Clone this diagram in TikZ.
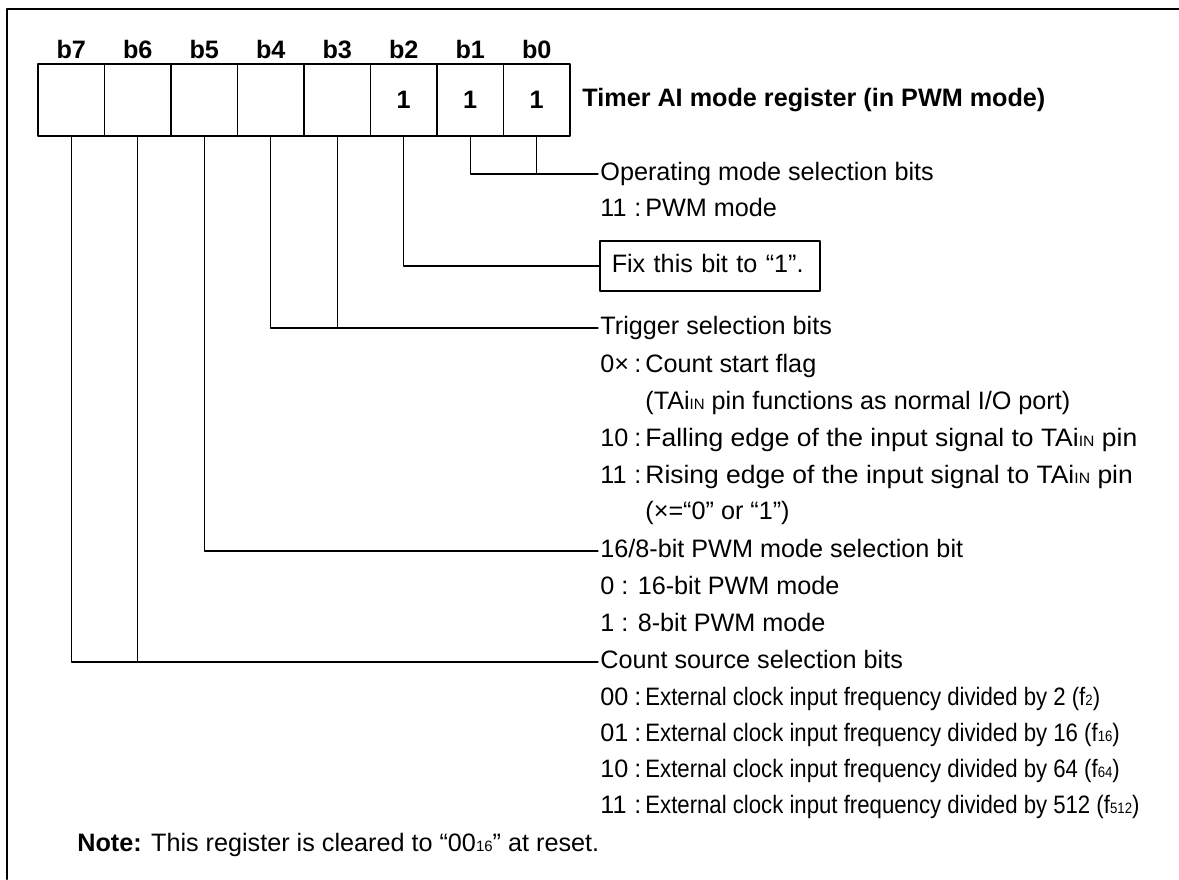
\documentclass[tikz,border=0pt]{standalone}
\usepackage{fontspec}
\setmainfont{Liberation Sans}
\newfontfamily\narrowfont[FakeStretch=0.88]{Liberation Sans}
\newfontfamily\widefont[FakeStretch=1.05]{Liberation Sans}
\newcommand\basefont{\fontsize{12.6pt}{15pt}\selectfont}
\newcommand\smalltxt[1]{{\fontsize{7.5pt}{8pt}\selectfont #1}}
\newcommand\opt[2]{\makebox[17pt][l]{#1}\makebox[5.5pt][l]{:}#2}
\newcommand\cont[1]{\hspace*{22.5pt}#1}
\begin{document}
\begin{tikzpicture}[x=0.5pt, y=-0.5pt, font=\basefont, line join=round, line cap=round,
	cell/.style={draw, line width=0.75pt, minimum width=33.25pt, minimum height=36pt, inner sep=0pt, font=\basefont\bfseries},
	bitlbl/.style={font=\basefont\bfseries, inner sep=1pt, text height=9pt, text depth=0pt},
	txt/.style={anchor=west, inner sep=1pt, text height=9pt, text depth=2.5pt},
	lead/.style={line width=0.6pt}]
	\useasboundingbox (0,0) rectangle (1179,879);
	% khung
	\draw[line width=1.2pt] (7,879) -- (7,9) -- (1179,9);
	% cac bit cua thanh ghi
	\foreach \i/\v in {7/,6/,5/,4/,3/,2/1,1/1,0/1} {
		\node[cell] (c\i) at ({570-66.5*(\i+0.5)},100) {\v};
		\node[bitlbl] (b\i) at ({570-66.5*(\i+0.5)},49) {b\i};
	}
	\node[txt, font=\basefont\bfseries] (title) at (580,100) {Timer AI mode register (in PWM mode)};
	
	% b1, b0
	\node[txt] (opm) at (598,174) {Operating mode selection bits};
	\node[txt] (opm1) at (598,210) {\opt{11}{PWM mode}};
	% b2
	\node[draw, line width=0.75pt, anchor=west, inner xsep=6pt, text width=98pt, align=left, minimum height=25pt, text height=9pt, text depth=2.5pt] (fix) at (599,266) {Fix this bit to “1”.};
	% b4, b3
	\node[txt] (trig) at (598,328) {Trigger selection bits};
	\node[txt] (trig1) at (598,366) {\opt{0×}{Count start flag}};
	\node[txt] (trig2) at (598,403) {\cont{(TAi\smalltxt{IN} pin functions as normal I/O port)}};
	\node[txt] (trig3) at (598,440) {\opt{10}{\widefont Falling edge of the input signal to TAi\smalltxt{IN} pin}};
	\node[txt] (trig4) at (598,477) {\opt{11}{\widefont Rising edge of the input signal to TAi\smalltxt{IN} pin}};
	\node[txt] (trig5) at (598,513) {\cont{(×=“0” or “1”)}};
	% b5
	\node[txt] (pwm) at (598,551) {16/8-bit PWM mode selection bit};
	\node[txt] (pwm1) at (598,588) {0 : 16-bit PWM mode};
	\node[txt] (pwm2) at (598,625) {1 : 8-bit PWM mode};
	% b7, b6
	\node[txt] (cnt) at (598,662) {Count source selection bits};
	\node[txt] (cnt1) at (598,699) {\opt{00}{\narrowfont External clock input frequency divided by 2 (f\smalltxt{2})}};
	\node[txt] (cnt2) at (598,735) {\opt{01}{\narrowfont External clock input frequency divided by 16 (f\smalltxt{16})}};
	\node[txt] (cnt3) at (598,771) {\opt{10}{\narrowfont External clock input frequency divided by 64 (f\smalltxt{64})}};
	\node[txt] (cnt4) at (598,807) {\opt{11}{\narrowfont External clock input frequency divided by 512 (f\smalltxt{512})}};
	
	\node[txt] (note) at (75,845) {\textbf{Note:} This register is cleared to “00\smalltxt{16}” at reset.};
	
	% duong noi
	\draw[lead] (c1.south) |- (opm.west);
	\draw[lead] (c0.south) -- (c0.south |- opm.west);
	\draw[lead] (c2.south) |- (fix.west);
	\draw[lead] (c4.south) |- (trig.west);
	\draw[lead] (c3.south) -- (c3.south |- trig.west);
	\draw[lead] (c5.south) |- (pwm.west);
	\draw[lead] (c7.south) |- (cnt.west);
	\draw[lead] (c6.south) -- (c6.south |- cnt.west);
\end{tikzpicture}
\end{document}
